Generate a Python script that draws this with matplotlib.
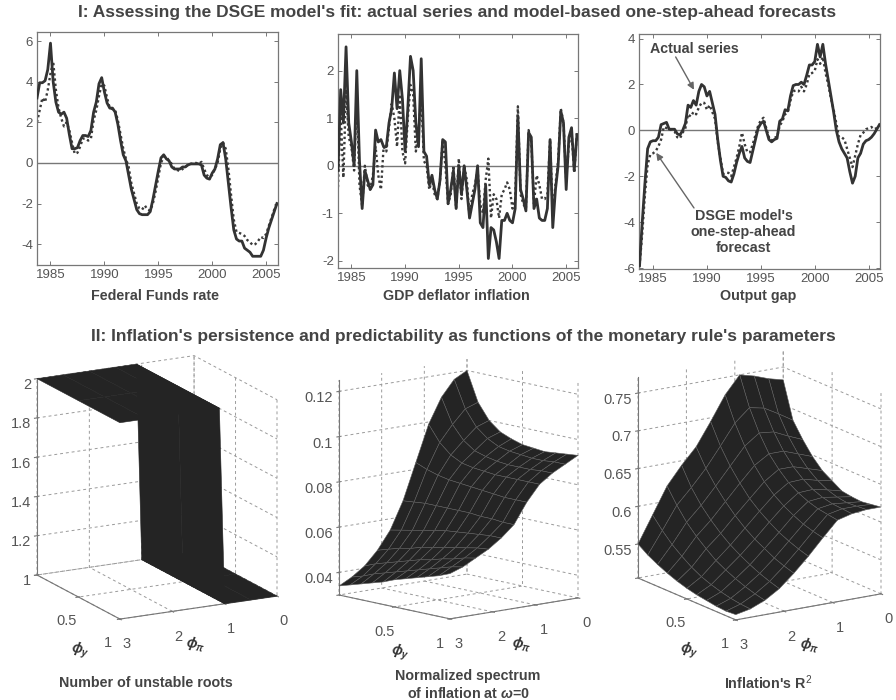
import numpy as np
import matplotlib
matplotlib.use("Agg")
import matplotlib.pyplot as plt
from mpl_toolkits.mplot3d import proj3d

W, H = 896, 700
INK = '#444444'
GRAY = '#777777'
DARK = '#242424'

plt.rcParams['font.family'] = ['Liberation Sans', 'DejaVu Sans']
plt.rcParams['mathtext.fontset'] = 'custom'
plt.rcParams['mathtext.rm'] = 'Liberation Sans'
plt.rcParams['mathtext.it'] = 'Liberation Sans:italic:bold'
plt.rcParams['axes.unicode_minus'] = False
plt.rcParams['grid.linestyle'] = (0, (3, 3))
plt.rcParams['grid.color'] = '#9a9a9a'
plt.rcParams['grid.linewidth'] = 0.7

# quarterly observations from 1983Q4 to 2006Q1
fed_actual = [3.2,
    3.95, 3.95, 4.05, 4.6, 5.9, 4.0, 3.0, 2.5, 2.4, 2.5, 2.2, 1.4,
    0.7, 0.7, 0.75, 1.1, 1.35, 1.35, 1.3, 1.6, 2.5, 3.0, 3.9, 4.2,
    3.5, 2.95, 2.7, 2.7, 2.5, 1.9, 1.1, 0.4, 0.1, -0.6, -1.3, -1.8,
    -2.3, -2.5, -2.55, -2.55, -2.55, -2.4, -1.8, -1.1, -0.4, 0.25, 0.4, 0.2,
    0.1, -0.2, -0.3, -0.3, -0.3, -0.2, -0.2, -0.1, -0.05, -0.05, -0.05, -0.05,
    -0.1, -0.6, -0.75, -0.8, -0.5, -0.3, 0.2, 0.9, 1.0, 0.2, -1.0, -2.2,
    -3.3, -3.75, -3.85, -3.85, -4.2, -4.3, -4.4, -4.6, -4.6, -4.6, -4.6, -4.3,
    -3.7, -3.2, -2.8, -2.4, -2.0]
fed_forecast = [2.0,
    2.6, 3.2, 3.0, 3.6, 4.4, 5.0, 3.6, 2.7, 2.2, 1.8, 2.0, 1.6,
    1.0, 0.45, 0.5, 0.8, 1.2, 1.2, 1.1, 1.2, 2.1, 2.6, 3.3, 3.9,
    3.8, 3.2, 2.7, 2.65, 2.6, 2.1, 1.4, 0.7, 0.2, -0.2, -1.0, -1.5,
    -2.0, -2.25, -2.3, -2.1, -2.3, -2.35, -2.0, -1.4, -0.7, 0.0, 0.3, 0.3,
    0.1, -0.05, -0.3, -0.35, -0.4, -0.3, -0.2, -0.1, -0.05, -0.02, 0.0, -0.05,
    0.05, -0.3, -0.6, -0.7, -0.6, -0.3, 0.0, 0.7, 1.0, 0.7, -0.3, -1.6,
    -2.8, -3.4, -3.45, -3.5, -3.6, -3.8, -3.9, -4.05, -4.0, -3.85, -3.65, -3.7,
    -3.5, -3.1, -2.7, -2.3, -2.0]

gdp_actual = [-0.1,
    1.6, 0.9, 2.5, 0.9, 0.5, 0.0, 2.0, 0.1, -0.9, -0.1, -0.3, -0.5,
    -0.4, 0.75, 0.5, 0.55, 0.4, 0.4, 0.9, 1.2, 1.95, 1.2, 2.0, 1.4,
    0.3, 1.2, 2.3, 2.0, 0.9, 0.4, 2.25, 0.3, 0.2, -0.4, -0.2, -0.5,
    -0.7, -0.3, 0.55, 0.5, -0.8, -0.5, -0.1, -0.9, 0.0, -0.6, 0.0, -0.5,
    -1.1, -0.8, -0.5, 0.0, -1.2, -1.3, -0.4, -1.95, -1.3, -1.35, -1.6, -1.95,
    -1.15, -1.15, -1.0, -1.15, -1.2, -0.9, 1.05, -0.5, -0.7, -0.95, 0.7, 0.6,
    -0.9, -0.7, -1.1, -1.15, -1.15, -0.9, 0.55, -1.3, -0.5, 0.0, 1.15, 0.9,
    -0.5, 0.6, 0.8, -0.1, 0.65]
gdp_forecast = [-0.45,
    1.1, -0.25, 1.6, 0.6, 0.4, -0.1, 1.4, -0.4, -0.85, 0.0, -0.4, -0.5,
    -0.2, 0.4, -0.2, -0.5, 0.4, 0.3, 0.8, 1.3, 1.0, 0.4, 1.5, 0.3,
    0.05, 1.0, 1.7, 1.5, 0.3, 0.7, 1.5, 0.1, 0.0, -0.5, -0.3, -0.6,
    -0.7, -0.3, 0.55, 0.0, -0.8, -0.6, 0.0, -0.9, 0.15, -0.7, 0.0, -0.3,
    -1.1, -0.6, -0.4, -0.1, -0.8, -1.0, -0.3, 0.15, -1.1, -0.6, -0.7, -1.1,
    -0.6, -0.5, -0.35, -0.5, -0.9, -0.7, 1.25, -0.6, -0.8, -0.9, 0.75, 0.5,
    -0.8, -0.2, -0.4, -0.7, -0.7, -0.6, 0.55, -1.05, -0.4, 0.1, 1.2, 0.9,
    -0.3, 0.45, 0.7, -0.15, 0.7]

gap_actual = [-5.9,
    -4.0, -2.3, -0.8, -0.5, -0.45, -0.45, -0.3, 0.25, 0.3, 0.35, 0.05, 0.05,
    0.05, -0.15, -0.2, 0.0, 0.3, 1.1, 1.0, 1.3, 1.1, 1.7, 2.0, 1.9,
    1.5, 1.7, 1.2, 0.7, -0.4, -1.3, -2.0, -2.05, -2.2, -2.25, -1.9, -1.4,
    -1.0, -0.7, -1.2, -1.35, -1.4, -0.9, -0.4, 0.1, 0.3, 0.4, 0.0, -0.4,
    -0.5, -0.4, -0.35, 0.4, 0.5, 0.9, 0.85, 1.5, 1.95, 2.0, 2.0, 2.1,
    2.0, 2.4, 2.85, 2.85, 3.0, 3.75, 3.2, 3.75, 2.9, 2.2, 1.5, 0.8,
    0.0, -0.5, -0.8, -1.0, -1.2, -1.8, -2.3, -2.0, -1.2, -1.0, -0.6, -0.45,
    -0.4, -0.3, -0.15, 0.05, 0.25]
gap_forecast = [-5.9,
    -4.5, -2.8, -1.5, -1.05, -1.0, -0.9, -0.7, -0.4, 0.15, 0.1, 0.1, 0.0,
    -0.05, -0.3, -0.35, -0.1, 0.1, 0.7, 0.6, 0.8, 0.7, 1.0, 1.2, 1.2,
    0.9, 1.1, 0.8, 0.5, -0.5, -1.2, -1.9, -1.85, -1.85, -2.0, -1.6, -1.2,
    -0.7, -0.1, -0.6, -0.95, -0.95, -0.6, -0.2, 0.2, 0.45, 0.55, 0.1, -0.3,
    -0.45, -0.3, -0.3, 0.2, 0.4, 0.7, 0.8, 1.3, 1.7, 1.75, 1.7, 1.9,
    1.7, 2.0, 2.45, 2.5, 2.6, 3.1, 2.9, 3.2, 2.5, 2.0, 1.4, 0.9,
    0.3, -0.3, -0.3, -0.4, -0.8, -1.2, -1.6, -1.1, -0.6, -0.2, -0.1, 0.05,
    0.1, 0.15, 0.05, 0.1, 0.2]

year_ticks = [1985, 1990, 1995, 2000, 2005]

# surface grids: rows follow phi_pi, columns follow phi_y
roots_pi = [0, 0.5, 1.0, 1.1, 1.5, 2.0, 2.5, 3.0]
roots_y = [0, 0.5, 1.0]
roots_z = [[1, 1, 1], [1, 1, 1], [1, 1, 1], [2, 2, 2],
           [2, 2, 2], [2, 2, 2], [2, 2, 2], [2, 2, 2]]

fine_pi = [0, 0.3, 0.6, 0.9, 1.2, 1.5, 1.8, 2.1, 2.4, 2.7, 3.0]
fine_y = [0, 0.1, 0.2, 0.3, 0.4, 0.5, 0.6, 0.7, 0.8, 0.9, 1.0]
spectrum_z = [
    [.1200, .1070, .1000, .0960, .0940, .0925, .0920, .0915, .0920, .0925, .0930],
    [.1170, .1050, .0980, .0940, .0915, .0905, .0900, .0895, .0895, .0900, .0900],
    [.1100, .0990, .0930, .0895, .0880, .0870, .0865, .0865, .0865, .0870, .0870],
    [.0990, .0920, .0875, .0850, .0840, .0835, .0830, .0830, .0830, .0830, .0830],
    [.0830, .0810, .0795, .0785, .0780, .0775, .0770, .0765, .0760, .0760, .0760],
    [.0670, .0675, .0680, .0680, .0680, .0680, .0680, .0675, .0675, .0670, .0670],
    [.0550, .0560, .0570, .0580, .0590, .0600, .0605, .0610, .0615, .0620, .0620],
    [.0470, .0485, .0500, .0510, .0525, .0535, .0545, .0555, .0565, .0575, .0580],
    [.0410, .0430, .0445, .0460, .0475, .0490, .0500, .0515, .0525, .0540, .0550],
    [.0370, .0385, .0405, .0420, .0435, .0450, .0465, .0480, .0495, .0510, .0520],
    [.0340, .0355, .0370, .0385, .0400, .0420, .0435, .0450, .0465, .0480, .0500]]
rsquared_z = [
    [.733, .685, .665, .648, .635, .627, .619, .617, .616, .618, .620],
    [.738, .697, .673, .655, .641, .631, .624, .620, .618, .619, .620],
    [.745, .708, .682, .662, .647, .636, .628, .623, .620, .619, .618],
    [.750, .712, .684, .662, .647, .635, .627, .621, .617, .615, .613],
    [.727, .695, .670, .650, .634, .622, .613, .606, .600, .596, .593],
    [.695, .668, .647, .630, .615, .604, .595, .587, .581, .576, .572],
    [.665, .642, .624, .609, .596, .585, .576, .569, .562, .557, .553],
    [.644, .620, .602, .588, .576, .566, .558, .551, .545, .540, .536],
    [.620, .600, .583, .570, .559, .549, .542, .536, .531, .527, .524],
    [.585, .570, .557, .547, .538, .531, .526, .522, .519, .517, .516],
    [.550, .541, .534, .528, .523, .519, .516, .514, .512, .511, .512]]


def ptext(fig, x, y, s, **kw):
    # x, y in image pixels, y counted from the top
    kw.setdefault('ha', 'center')
    kw.setdefault('va', 'center')
    kw.setdefault('color', INK)
    return fig.text(x / W, 1 - y / H, s, **kw)


def px_rect(left, top, right, bottom):
    return [left / W, 1 - bottom / H, (right - left) / W, (bottom - top) / H]


def draw_series(fig, rect, actual, forecast, ylim, yticks, xlim, label, label_x):
    ax = fig.add_axes(px_rect(*rect))
    t = 1983.75 + 0.25 * np.arange(len(actual))
    ax.axhline(0, color=GRAY, lw=1.0, zorder=1)
    ax.plot(t, forecast, color='#3a3a3a', lw=1.7, ls=(0, (1, 1.2)), zorder=2)
    ax.plot(t, actual, color='#333333', lw=2.0, zorder=3)
    ax.set_xlim(*xlim)
    ax.set_ylim(*ylim)
    ax.set_xticks(year_ticks)
    ax.set_yticks(yticks)
    ax.tick_params(direction='in', top=True, right=True, length=3, width=0.7,
                   color=GRAY, labelcolor='#555555', labelsize=9.5, pad=3)
    for sp in ax.spines.values():
        sp.set_color(GRAY)
        sp.set_linewidth(0.9)
    ptext(fig, label_x, 296, label, fontsize=10.3, fontweight='bold')
    return ax


def place_3d(fig, ax, left_px, right_px, base_y):
    # scale and shift the square axes so the floor corners land on the pixels given
    def corners(size, x0, y0):
        ax.set_position([x0 / W, y0 / H, size / W, size / H])
        xl, yl = ax.get_xlim(), ax.get_ylim()
        zl = ax.get_zlim()
        tx, ty, _ = proj3d.proj_transform(np.array([xl[1], xl[0]]), np.array([yl[0], yl[1]]),
                                          np.array([zl[0], zl[0]]), ax.get_proj())
        return ax.transData.transform(np.column_stack([tx, ty]))
    p = corners(400, 100, 100)
    size = 400 * (right_px - left_px) / (p[1, 0] - p[0, 0])
    p = corners(size, 100, 100)
    corners(size, 100 + left_px - p[0, 0], 100 + (H - base_y) - p[0, 1])


def draw_surface(fig, pi, y, z, zlim, zticks, ztick_labels, elev, azim, aspect,
                 left_px, right_px, base_y, edge):
    ax = fig.add_axes([0, 0, 0.5, 0.5], projection='3d')
    ax.set_proj_type('ortho')
    X, Y = np.meshgrid(pi, y, indexing='ij')
    ax.plot_surface(X, Y, np.array(z), color=DARK, shade=False, rstride=1, cstride=1,
                    edgecolor=edge, linewidth=0.4)
    ax.set_xlim(0, 3)
    ax.set_ylim(0, 1)
    ax.set_zlim(*zlim)
    ax.set_xticks([0, 1, 2, 3])
    ax.set_yticks([0, 0.5, 1])
    ax.set_yticklabels(['', '0.5', '1'])
    ax.set_zticks(zticks)
    ax.set_zticklabels(ztick_labels, ha='right')
    ax.view_init(elev=elev, azim=azim)
    ax.set_box_aspect(aspect)
    ax.patch.set_alpha(0)
    for axis in (ax.xaxis, ax.yaxis, ax.zaxis):
        axis.set_pane_color((1, 1, 1, 0))
        axis.pane.set_edgecolor('none')
        axis.line.set_color(GRAY)
    ax.tick_params(axis='both', labelsize=10.5, labelcolor='#555555', color=GRAY, pad=1)
    ax.tick_params(axis='z', pad=-5)
    place_3d(fig, ax, left_px, right_px, base_y)
    return ax


def main():
    fig = plt.figure(figsize=(W / 100, H / 100), dpi=100)

    ptext(fig, 457, 13, "I: Assessing the DSGE model's fit: actual series and model-based one-step-ahead forecasts",
          fontsize=12.5, fontweight='bold')
    ptext(fig, 463, 336, "II: Inflation's persistence and predictability as functions of the monetary rule's parameters",
          fontsize=12.5, fontweight='bold')

    draw_series(fig, (37, 32, 278, 265), fed_actual, fed_forecast, (-5.03, 6.45),
                [-4, -2, 0, 2, 4, 6], (1983.75, 2006.1), 'Federal Funds rate', 155)
    draw_series(fig, (338, 34, 578, 268), gdp_actual, gdp_forecast, (-2.15, 2.77),
                [-2, -1, 0, 1, 2], (1983.75, 2006.1), 'GDP deflator inflation', 456)
    ax = draw_series(fig, (639, 34, 880, 269), gap_actual, gap_forecast, (-6.04, 4.2),
                     [-6, -4, -2, 0, 2, 4], (1983.7, 2006.05), 'Output gap', 758)

    arrow = dict(arrowstyle='-|>', color='#666666', lw=1.0, shrinkA=0, shrinkB=0)
    ax.text(1988.8, 3.56, 'Actual series', ha='center', va='center',
            fontsize=10.3, fontweight='bold', color=INK)
    ax.annotate('', xy=(1988.8, 1.77), xytext=(1987.1, 3.2), arrowprops=arrow)
    ax.annotate('', xy=(1985.3, -0.98), xytext=(1988.8, -3.38), arrowprops=arrow)
    ax.text(1993.4, -4.43, "DSGE model's\none-step-ahead\nforecast", ha='center', va='center',
            fontsize=10.3, fontweight='bold', color=INK, linespacing=1.2)

    draw_surface(fig, roots_pi, roots_y, roots_z, (1, 2),
                 [1, 1.2, 1.4, 1.6, 1.8, 2], ['1', '1.2', '1.4', '1.6', '1.8', '2'],
                 16.2, 62.3, (177, 178, 204), 37, 277, 575, DARK)
    draw_surface(fig, fine_pi, fine_y, spectrum_z, (0.03, 0.125),
                 [0.04, 0.06, 0.08, 0.1, 0.12], ['0.04', '0.06', '0.08', '0.1', '0.12'],
                 10.8, 48.9, (170, 169, 219), 339, 578, 595, '#5c5c5c')
    draw_surface(fig, fine_pi, fine_y, rsquared_z, (0.505, 0.771),
                 [0.55, 0.6, 0.65, 0.7, 0.75], ['0.55', '0.6', '0.65', '0.7', '0.75'],
                 16.1, 57.1, (173, 180, 209), 638, 881, 578, '#5c5c5c')

    phi_y = r'$\phi_{y}$'
    phi_pi = r'$\phi_{\pi}$'
    for x, y, s in [(80, 650, phi_y), (195, 644, phi_pi), (400, 652, phi_y),
                    (521, 644, phi_pi), (689, 650, phi_y), (809, 645, phi_pi)]:
        ptext(fig, x, y, s, fontsize=10, rotation=-12, color='#333333')

    ptext(fig, 146, 683, 'Number of unstable roots', fontsize=10.3, fontweight='bold')
    ptext(fig, 468, 676, 'Normalized spectrum', fontsize=10.3, fontweight='bold')
    ptext(fig, 468, 693, r'of inflation at $\omega$=0', fontsize=10.3, fontweight='bold')
    ptext(fig, 768, 683, "Inflation's R$^{2}$", fontsize=10.3, fontweight='bold')

    fig.savefig('out.png', dpi=100)


if __name__ == "__main__":
    main()
